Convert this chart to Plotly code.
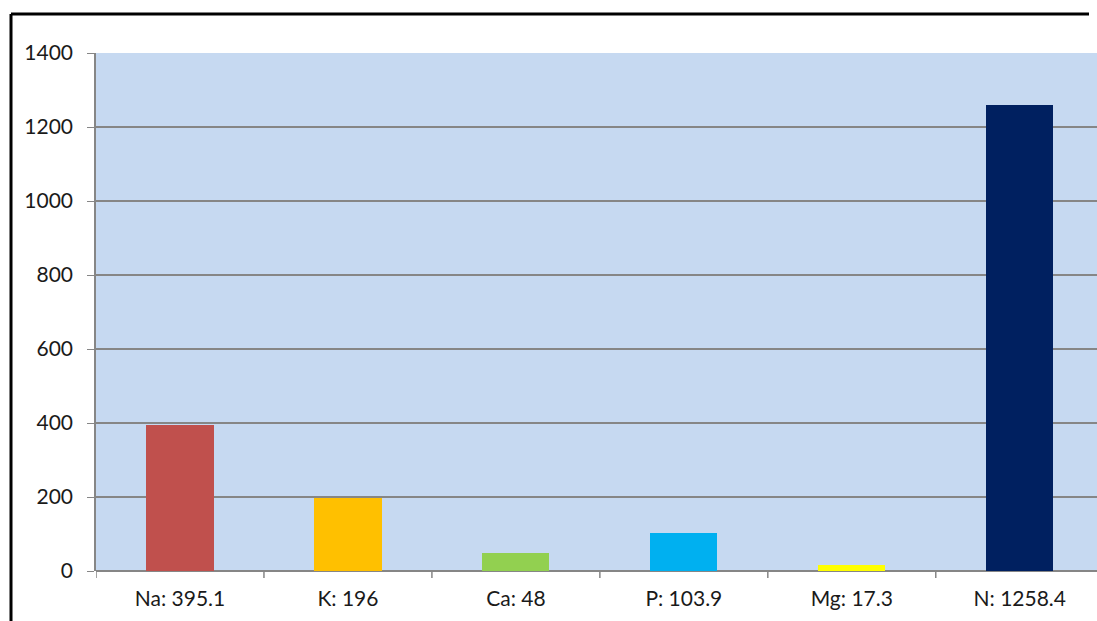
import plotly.graph_objects as go

# Nutrient amounts per element
elements = ["Na", "K", "Ca", "P", "Mg", "N"]
amounts = [395.1, 196, 48, 103.9, 17.3, 1258.4]
bar_colors = ["#C0504D", "#FFC000", "#92D050", "#00B0F0", "#FFFF00", "#002060"]
y_ticks = [0, 200, 400, 600, 800, 1000, 1200, 1400]

labels = [f"{e}: {v:g}" for e, v in zip(elements, amounts)]

W, H = 1097, 621
ML, MT, MB, MR = 96, 53, 50, 0
pw, ph = W - ML - MR, H - MT - MB

fig = go.Figure(
    go.Bar(
        x=list(range(len(labels))),
        y=amounts,
        marker=dict(color=bar_colors, line=dict(width=0)),
        width=0.4,
    )
)

font_family = "Lato, 'Open Sans', sans-serif"

fig.update_layout(
    width=W,
    height=H,
    margin=dict(l=ML, r=MR, t=MT, b=MB),
    paper_bgcolor="white",
    plot_bgcolor="#C6D9F1",
    showlegend=False,
    bargap=0,
    font=dict(family=font_family, size=21, color="#1a1a1a"),
    xaxis=dict(
        tickmode="array",
        tickvals=list(range(len(labels))),
        ticktext=labels,
        tickfont=dict(size=21),
        range=[-0.5, 5.46],
        showgrid=False,
        showline=False,
        ticks="",
        zeroline=False,
        ticklabelstandoff=13,
    ),
    yaxis=dict(
        range=[0, 1400],
        tickvals=y_ticks,
        tickfont=dict(size=21),
        showgrid=True,
        gridcolor="#868686",
        gridwidth=1.5,
        showline=True,
        linecolor="#868686",
        linewidth=1.5,
        ticks="outside",
        ticklen=7,
        tickcolor="#868686",
        zeroline=True,
        zerolinecolor="#868686",
        zerolinewidth=1.5,
        ticklabelstandoff=10,
    ),
)

# Category boundary tick marks below the baseline
for i in range(len(labels)):
    fig.add_shape(
        type="line", xref="x", yref="paper",
        x0=i - 0.5, x1=i - 0.5, y0=0, y1=-7 / ph,
        line=dict(color="#868686", width=1.5),
    )

# Outer frame of the chart: top and left edges
frame_left = (11 - ML) / pw
frame_top = 1 + (MT - 14) / ph
fig.add_shape(
    type="line", xref="paper", yref="paper",
    x0=frame_left, x1=frame_left, y0=frame_top, y1=-MB / ph,
    line=dict(color="black", width=3),
)
fig.add_shape(
    type="line", xref="paper", yref="paper",
    x0=frame_left, x1=(W - 8 - ML) / pw, y0=frame_top, y1=frame_top,
    line=dict(color="black", width=3),
)

fig.write_html("out.html")
